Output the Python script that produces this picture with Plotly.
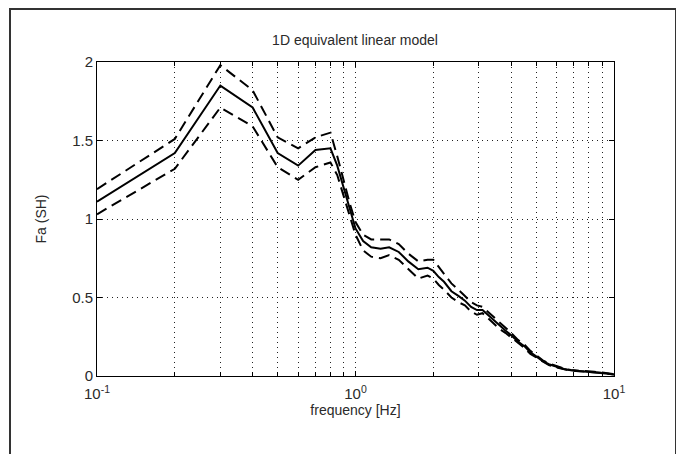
import plotly.graph_objects as go

freq = [0.1, 0.2, 0.3, 0.4, 0.5, 0.6, 0.7, 0.8, 0.85, 0.9, 0.95, 1.0, 1.07, 1.15, 1.25, 1.35,
        1.47, 1.6, 1.75, 1.9, 2.0, 2.1, 2.2, 2.35, 2.5, 2.65, 2.8, 2.95, 3.1, 3.25, 3.4, 3.6,
        3.8, 4.0, 4.25, 4.5, 4.75, 5.0, 5.3, 5.6, 6.0, 6.4, 6.8, 7.3, 7.8, 8.4, 9.0, 9.5, 10.0]

fa_mean = [1.11, 1.42, 1.85, 1.71, 1.42, 1.34, 1.44, 1.45, 1.34, 1.20, 1.07, 0.94, 0.86, 0.82, 0.81, 0.82,
           0.79, 0.73, 0.68, 0.69, 0.67, 0.63, 0.60, 0.54, 0.51, 0.48, 0.44, 0.42, 0.42, 0.39, 0.36, 0.32,
           0.29, 0.26, 0.22, 0.19, 0.15, 0.125, 0.095, 0.075, 0.058, 0.045, 0.036, 0.032, 0.029, 0.026, 0.022, 0.015, 0.01]

fa_upper = [1.19, 1.51, 1.98, 1.82, 1.52, 1.45, 1.52, 1.55, 1.40, 1.24, 1.10, 0.98, 0.90, 0.87, 0.87, 0.87,
            0.84, 0.78, 0.73, 0.74, 0.74, 0.69, 0.65, 0.59, 0.55, 0.51, 0.47, 0.45, 0.44, 0.41, 0.38, 0.34,
            0.305, 0.275, 0.23, 0.20, 0.16, 0.132, 0.10, 0.08, 0.061, 0.047, 0.038, 0.033, 0.030, 0.027, 0.023, 0.016, 0.011]

fa_lower = [1.03, 1.32, 1.71, 1.59, 1.33, 1.25, 1.33, 1.36, 1.28, 1.15, 1.03, 0.90, 0.80, 0.76, 0.75, 0.77,
            0.74, 0.68, 0.62, 0.64, 0.62, 0.58, 0.55, 0.50, 0.47, 0.45, 0.41, 0.39, 0.40, 0.37, 0.34, 0.30,
            0.275, 0.245, 0.21, 0.18, 0.14, 0.118, 0.09, 0.07, 0.055, 0.043, 0.034, 0.031, 0.028, 0.025, 0.021, 0.014, 0.009]

x_tickvals = [0.1, 1, 10]
x_ticktext = ["10<sup>-1</sup>", "10<sup>0</sup>", "10<sup>1</sup>"]
y_tickvals = [0, 0.5, 1, 1.5, 2]
y_ticktext = ["0", "0.5", "1", "1.5", "2"]

FONT = "Liberation Sans, Arial, sans-serif"
TXT = "#2a2a2a"

# the page body adds an 8px offset; figure is sized to fill the rest of the window
W, H = 676, 446
L, R, T, B = 89, 70, 54, 78
PW, PH = W - L - R, H - T - B

fig = go.Figure()
fig.add_trace(go.Scatter(x=freq, y=fa_upper, mode="lines",
                         line=dict(color="black", width=2, dash="11px,6px"), showlegend=False))
fig.add_trace(go.Scatter(x=freq, y=fa_lower, mode="lines",
                         line=dict(color="black", width=2, dash="11px,6px"), showlegend=False))
fig.add_trace(go.Scatter(x=freq, y=fa_mean, mode="lines",
                         line=dict(color="black", width=2), showlegend=False))

grid = dict(showgrid=True, gridcolor="#222222", gridwidth=1, griddash="1px,4px")

fig.update_xaxes(type="log", range=[-1, 1], tickvals=x_tickvals, ticktext=x_ticktext,
                 ticks="inside", ticklen=5, tickcolor="black",
                 showline=True, linecolor="black", linewidth=1, mirror="ticks",
                 zeroline=False, ticklabelstandoff=4, **grid,
                 minor=dict(dtick="D1", ticks="inside", ticklen=4, tickcolor="black",
                            showgrid=True, gridcolor="#222222", gridwidth=1, griddash="1px,4px"),
                 tickfont=dict(family=FONT, size=15, color=TXT),
                 title=dict(text="frequency [Hz]", font=dict(family=FONT, size=14, color=TXT), standoff=4))
fig.update_yaxes(range=[0, 2], tickvals=y_tickvals, ticktext=y_ticktext,
                 ticks="inside", ticklen=5, tickcolor="black",
                 showline=True, linecolor="black", linewidth=1, mirror="ticks",
                 zeroline=False, **grid,
                 tickfont=dict(family=FONT, size=15, color=TXT),
                 title=dict(text="Fa (SH)", font=dict(family=FONT, size=14, color=TXT), standoff=22))

fig.update_layout(
    width=W, height=H,
    margin=dict(l=L, r=R, t=T, b=B),
    paper_bgcolor="white", plot_bgcolor="white",
    title=dict(text="1D equivalent linear model", x=(355 - 8) / W, xanchor="center",
               y=1 - 32 / H, yanchor="middle",
               font=dict(family=FONT, size=14, color=TXT)),
    shapes=[dict(type="rect", xref="paper", yref="paper",
                 x0=(2 - L) / PW, x1=(668 - L) / PW,
                 y0=-(B + 20) / PH, y1=(PH + T - 1) / PH,
                 line=dict(color="#333333", width=2), layer="below")],
)

fig.write_html("out.html")
